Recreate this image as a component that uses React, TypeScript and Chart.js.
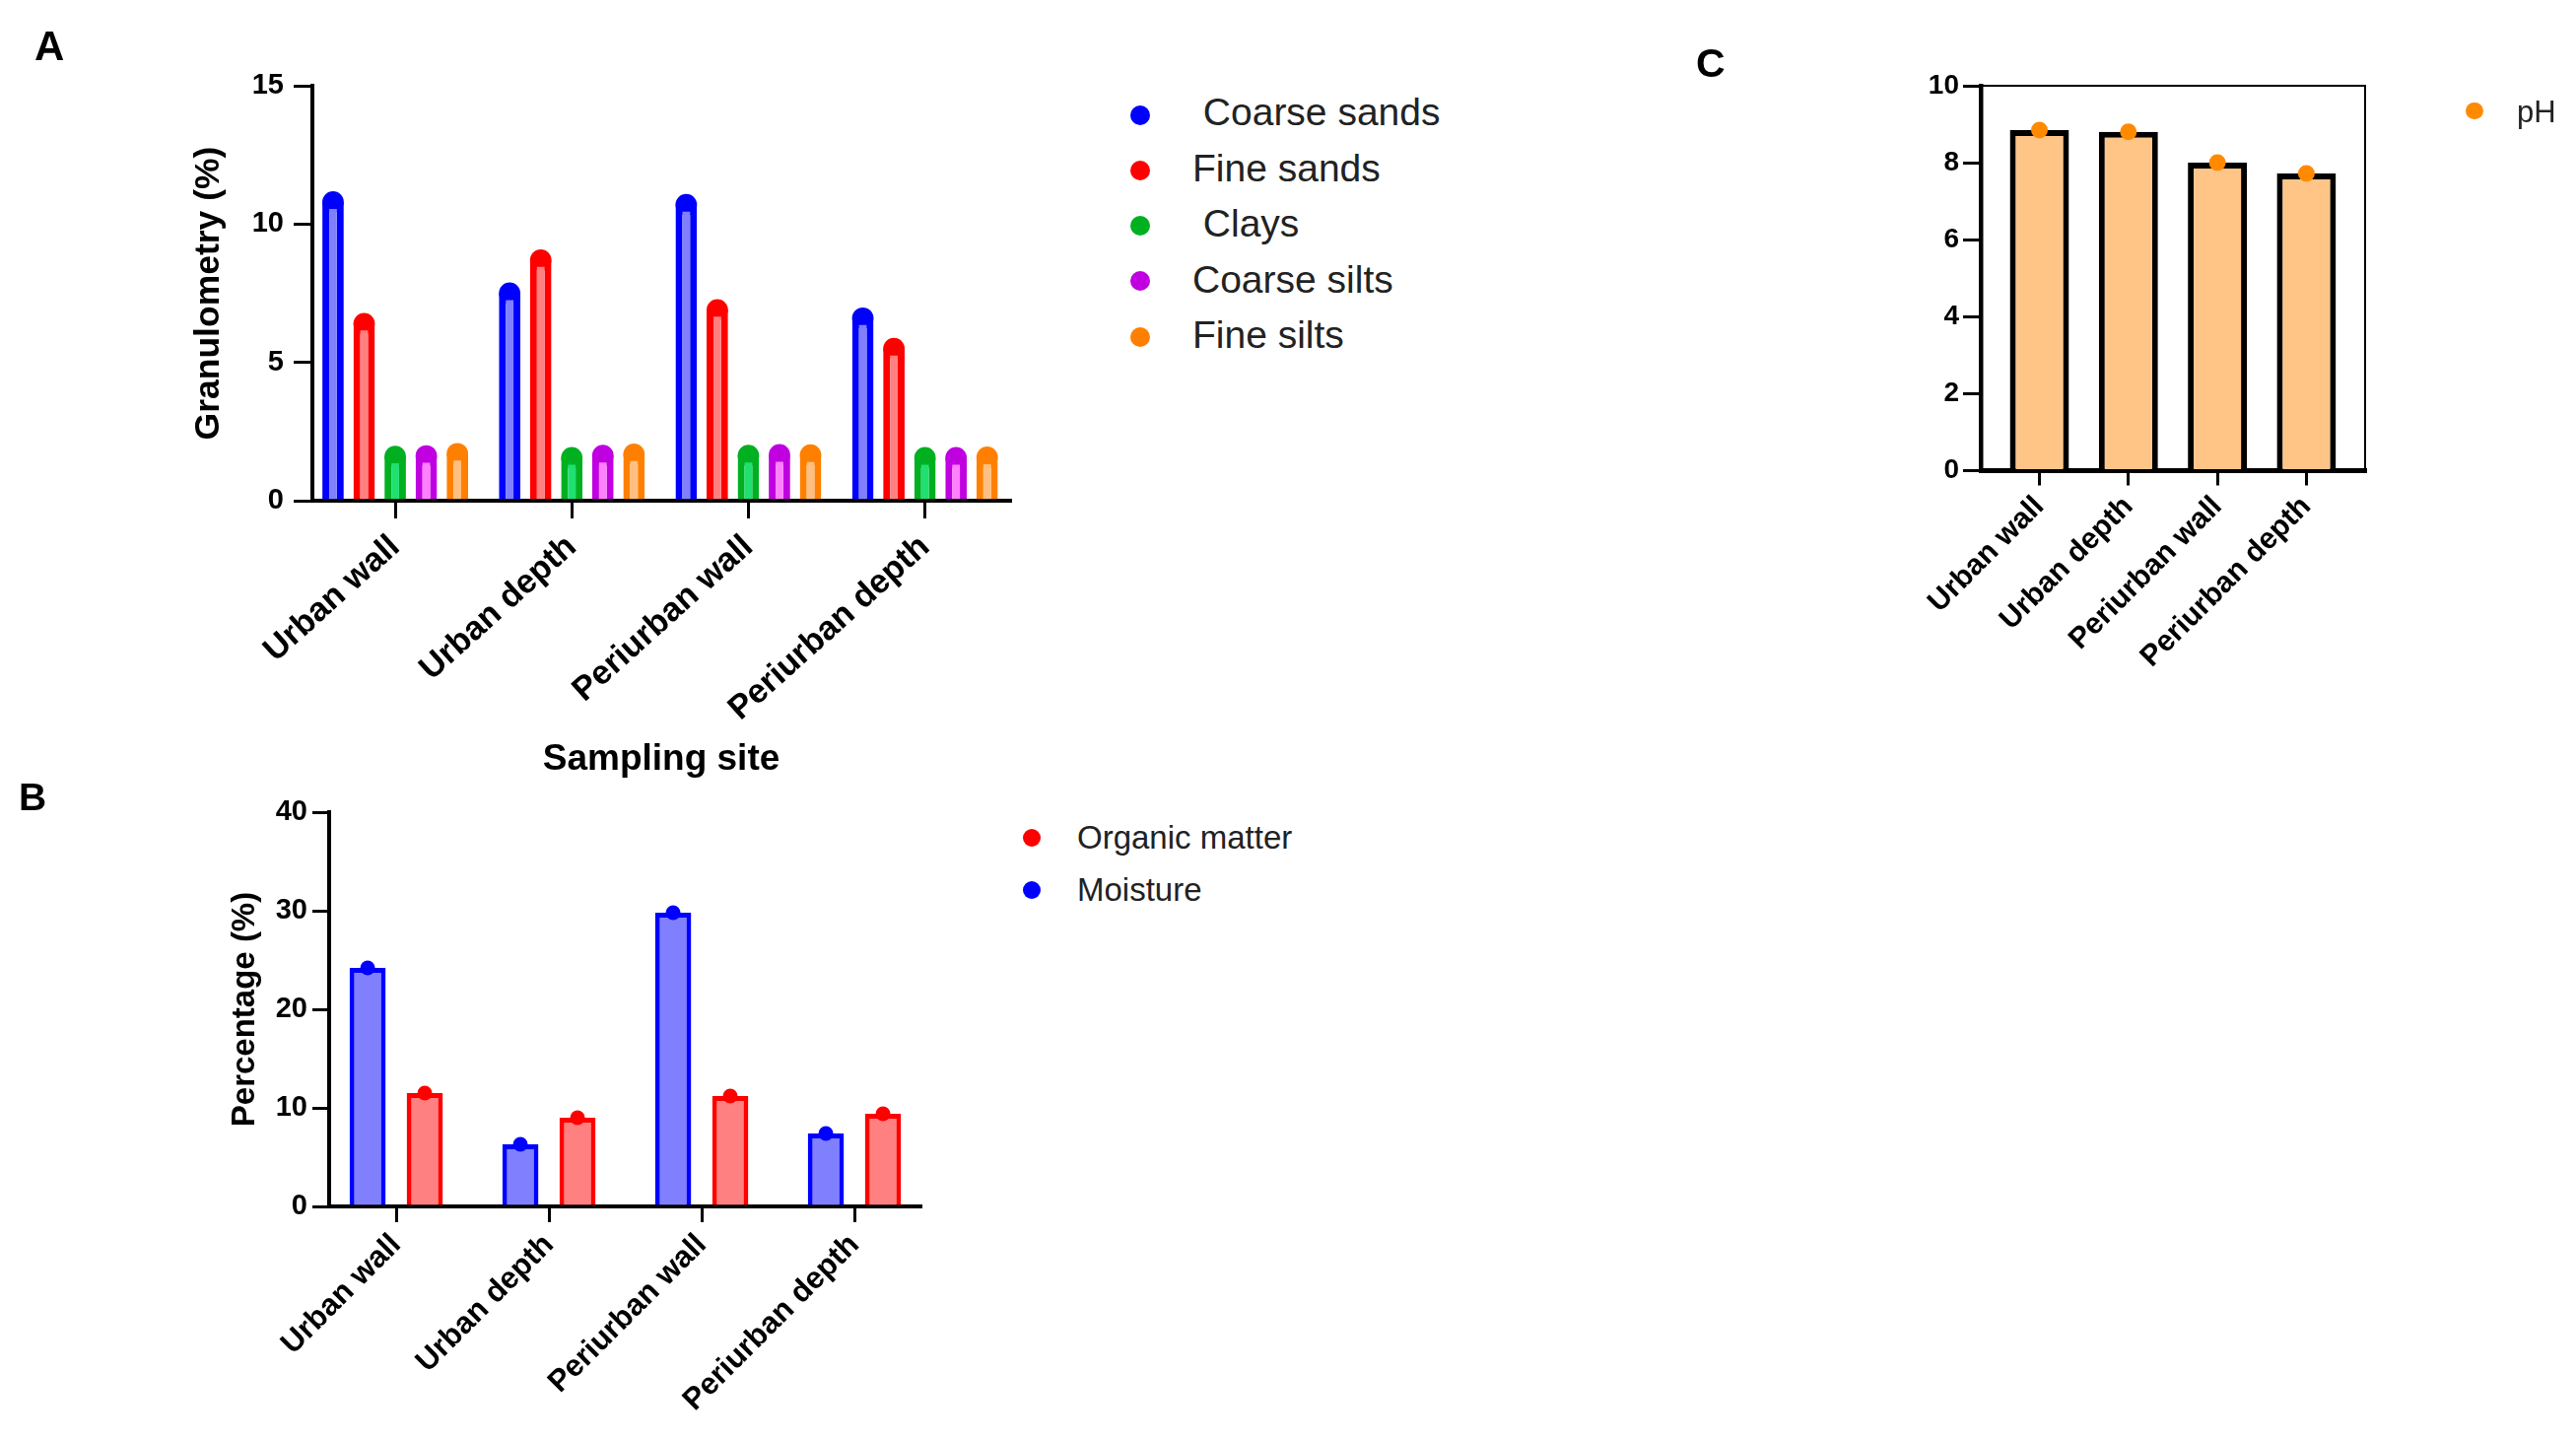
import React, { useEffect, useRef } from 'react';
import { Chart, registerables } from 'chart.js';

Chart.register(...registerables);

const FONT = '"Liberation Sans", Arial, Helvetica, sans-serif';

// ---------- data ----------
const sites = ['Urban wall', 'Urban depth', 'Periurban wall', 'Periurban depth'];

// Panel A – granulometry (%)
const granLabels = [' Coarse sands', 'Fine sands', ' Clays', 'Coarse silts', 'Fine silts'];
const coarseSands = [10.8, 7.5, 10.7, 6.6];
const fineSands = [6.4, 8.7, 6.9, 5.5];
const clays = [1.6, 1.55, 1.63, 1.55];
const coarseSilts = [1.62, 1.63, 1.66, 1.55];
const fineSilts = [1.7, 1.68, 1.65, 1.57];

// Panel B – percentage (%)
const bLabels = ['Organic matter', 'Moisture'];
const moisture = [24.2, 6.3, 29.8, 7.4];
const organicMatter = [11.5, 9.0, 11.2, 9.4];

// Panel C – pH
const cLabels = ['pH'];
const pH = [8.85, 8.8, 8.0, 7.72];

// ---------- styles ----------
const granBorder = ['#0000FF', '#FF0000', '#00B020', '#C000E0', '#FF8000'];
const granFill = ['#8080FF', '#FF8080', '#20E070', '#FF80FF', '#FFBF80'];
const BLUE = '#0000FF';
const BLUE_FILL = '#8080FF';
const RED = '#FF0000';
const RED_FILL = '#FF8080';
const PH_FILL = '#FFC587';
const PH_DOT = '#FF8A00';

const toXY = (vals: number[]) => vals.map((y, i) => ({ x: i, y }));

// GraphPad-like symbols on top of each bar
const dotPlugin = {
  id: 'dots',
  drawDots(chart: any, opts: any) {
    const ctx = chart.ctx;
    chart.data.datasets.forEach((ds: any, di: number) => {
      const meta = chart.getDatasetMeta(di);
      if (meta.hidden) return;
      meta.data.forEach((el: any) => {
        const p = el.getProps(['x', 'y', 'width'], true);
        const r = opts.fullWidth ? p.width / 2 : opts.radius;
        ctx.save();
        ctx.beginPath();
        ctx.arc(p.x, p.y, r, 0, Math.PI * 2);
        ctx.fillStyle = ds.dotColor || ds.borderColor;
        ctx.fill();
        ctx.restore();
      });
    });
  },
  beforeDatasetsDraw(chart: any, _a: any, opts: any) {
    if (opts && opts.behind) (dotPlugin as any).drawDots(chart, opts);
  },
  afterDatasetsDraw(chart: any, _a: any, opts: any) {
    if (opts && !opts.behind) (dotPlugin as any).drawDots(chart, opts);
  },
};

const framePlugin = {
  id: 'frame',
  afterDraw(chart: any, _a: any, opts: any) {
    if (!opts || !opts.enabled) return;
    const { left, right, top, bottom } = chart.chartArea;
    const ctx = chart.ctx;
    ctx.save();
    ctx.strokeStyle = '#000';
    ctx.lineWidth = opts.width;
    ctx.beginPath();
    ctx.moveTo(left, top);
    ctx.lineTo(right, top);
    ctx.lineTo(right, bottom);
    ctx.stroke();
    ctx.restore();
  },
};

function xAxis(o: any) {
  return {
    type: 'linear',
    min: o.min,
    max: o.max,
    offset: false,
    afterBuildTicks: (s: any) => {
      s.ticks = sites.map((_, i) => ({ value: i }));
    },
    afterFit: (s: any) => {
      s.height = o.height;
    },
    border: { display: true, color: '#000', width: o.borderWidth },
    grid: {
      display: true,
      drawOnChartArea: false,
      offset: false,
      tickLength: o.tickLength,
      tickWidth: 3,
      tickColor: '#000',
      lineWidth: 3,
      color: '#000',
    },
    ticks: {
      autoSkip: false,
      includeBounds: false,
      minRotation: o.rot,
      maxRotation: o.rot,
      padding: o.padding,
      color: '#000',
      font: { family: FONT, size: o.fontSize, weight: 'bold' },
      callback: (v: any) => (sites[v] !== undefined ? sites[v] : ''),
    },
    title: o.title
      ? {
          display: true,
          text: o.title,
          color: '#000',
          font: { family: FONT, size: o.titleSize, weight: 'bold' },
          padding: { top: 0, bottom: o.titlePad },
        }
      : { display: false },
  };
}

function yAxis(o: any) {
  return {
    type: 'linear',
    min: 0,
    max: o.max,
    afterFit: (s: any) => {
      s.width = o.width;
    },
    border: { display: true, color: '#000', width: o.borderWidth },
    grid: {
      display: true,
      drawOnChartArea: false,
      tickLength: o.tickLength,
      tickWidth: 3,
      tickColor: '#000',
      lineWidth: 3,
      color: '#000',
    },
    ticks: {
      stepSize: o.step,
      padding: o.padding,
      color: '#000',
      font: { family: FONT, size: o.fontSize, weight: 'bold' },
    },
    title: o.title
      ? {
          display: true,
          text: o.title,
          color: '#000',
          font: { family: FONT, size: o.titleSize, weight: 'bold' },
          padding: { top: o.titlePad, bottom: 0 },
        }
      : { display: false },
  };
}

const baseOpts = {
  responsive: false,
  animation: false,
  events: [],
};

function Text({ text, left, cy, size, bold, color }: any) {
  return (
    <div
      style={{
        position: 'absolute',
        left,
        top: cy - 0.4885 * size,
        fontSize: size,
        lineHeight: 1,
        fontWeight: bold ? 'bold' : 'normal',
        fontFamily: FONT,
        color: color || '#000',
        whiteSpace: 'pre',
      }}
    >
      {text}
    </div>
  );
}

function Dot({ cx, cy, r, color }: any) {
  return (
    <div
      style={{
        position: 'absolute',
        left: cx - r,
        top: cy - r,
        width: 2 * r,
        height: 2 * r,
        borderRadius: '50%',
        background: color,
      }}
    />
  );
}

export default function App() {
  const refA = useRef<HTMLCanvasElement>(null);
  const refB = useRef<HTMLCanvasElement>(null);
  const refC = useRef<HTMLCanvasElement>(null);

  useEffect(() => {
    const granSeries = [coarseSands, fineSands, clays, coarseSilts, fineSilts];
    const chartA = new Chart(refA.current as any, {
      type: 'bar',
      data: {
        datasets: granSeries.map((vals, k) => ({
          label: granLabels[k].trim(),
          data: toXY(vals),
          backgroundColor: granFill[k],
          borderColor: granBorder[k],
          borderWidth: 7,
          borderSkipped: 'bottom',
          categoryPercentage: 0.88,
          barPercentage: 0.69,
          dotColor: granBorder[k],
        })) as any,
      },
      options: {
        ...baseOpts,
        layout: { padding: { top: 87, right: 75, left: 0, bottom: 0 } },
        plugins: {
          legend: { display: false },
          tooltip: { enabled: false },
          dots: { behind: true, fullWidth: true },
        } as any,
        scales: {
          x: xAxis({
            min: -0.469,
            max: 3.482,
            height: 292,
            borderWidth: 4,
            tickLength: 18,
            rot: 42,
            padding: 9,
            fontSize: 34,
            title: 'Sampling site',
            titleSize: 37,
            titlePad: 7,
          }),
          y: yAxis({
            max: 15,
            step: 5,
            width: 317,
            borderWidth: 4,
            tickLength: 19,
            padding: 10,
            fontSize: 29,
            title: 'Granulometry (%)',
            titleSize: 35.5,
            titlePad: 191,
          }),
        } as any,
      } as any,
      plugins: [dotPlugin as any],
    });

    const chartB = new Chart(refB.current as any, {
      type: 'bar',
      data: {
        datasets: [
          {
            label: bLabels[1],
            data: toXY(moisture),
            backgroundColor: BLUE_FILL,
            borderColor: BLUE,
            borderWidth: 5,
            borderSkipped: 'bottom',
            categoryPercentage: 0.748,
            barPercentage: 0.633,
            dotColor: BLUE,
          },
          {
            label: bLabels[0],
            data: toXY(organicMatter),
            backgroundColor: RED_FILL,
            borderColor: RED,
            borderWidth: 5,
            borderSkipped: 'bottom',
            categoryPercentage: 0.748,
            barPercentage: 0.633,
            dotColor: RED,
          },
        ] as any,
      },
      options: {
        ...baseOpts,
        layout: { padding: { top: 44, right: 66, left: 0, bottom: 0 } },
        plugins: {
          legend: { display: false },
          tooltip: { enabled: false },
          dots: { behind: false, radius: 7.5 },
        } as any,
        scales: {
          x: xAxis({
            min: -0.439,
            max: 3.432,
            height: 238,
            borderWidth: 4,
            tickLength: 16,
            rot: 45,
            padding: 5,
            fontSize: 31,
          }),
          y: yAxis({
            max: 40,
            step: 10,
            width: 334,
            borderWidth: 4,
            tickLength: 17,
            padding: 5,
            fontSize: 29,
            title: 'Percentage (%)',
            titleSize: 33,
            titlePad: 229,
          }),
        } as any,
      } as any,
      plugins: [dotPlugin as any],
    });

    const chartC = new Chart(refC.current as any, {
      type: 'bar',
      data: {
        datasets: [
          {
            label: cLabels[0],
            data: toXY(pH),
            backgroundColor: PH_FILL,
            borderColor: '#000',
            borderWidth: 6,
            borderSkipped: 'bottom',
            categoryPercentage: 1,
            barPercentage: 0.664,
            dotColor: PH_DOT,
          },
        ] as any,
      },
      options: {
        ...baseOpts,
        layout: { padding: { top: 87, right: 214, left: 0, bottom: 0 } },
        plugins: {
          legend: { display: false },
          tooltip: { enabled: false },
          dots: { behind: false, radius: 8.5 },
          frame: { enabled: true, width: 2 },
        } as any,
        scales: {
          x: xAxis({
            min: -0.659,
            max: 3.66,
            height: 282.5,
            borderWidth: 5,
            tickLength: 15,
            rot: 45,
            padding: 4,
            fontSize: 30,
          }),
          y: yAxis({
            max: 10,
            step: 2,
            width: 360,
            borderWidth: 4.5,
            tickLength: 18,
            padding: 4,
            fontSize: 28,
          }),
        } as any,
      } as any,
      plugins: [dotPlugin as any, framePlugin as any],
    });

    return () => {
      chartA.destroy();
      chartB.destroy();
      chartC.destroy();
    };
  }, []);

  const legendA = granLabels.map((t, k) => ({ t, c: granBorder[k] }));

  return (
    <div
      style={{
        position: 'absolute',
        left: 0,
        top: 0,
        width: 2614,
        height: 1462,
        overflow: 'hidden',
        background: '#fff',
        fontFamily: FONT,
      }}
    >
      <canvas ref={refA} width={1100} height={800} style={{ position: 'absolute', left: 0, top: 0 }} />
      <canvas ref={refB} width={1000} height={682} style={{ position: 'absolute', left: 0, top: 780 }} />
      <canvas ref={refC} width={964} height={760} style={{ position: 'absolute', left: 1650, top: 0 }} />

      <Text text="A" left={35} cy={47} size={42} bold />
      <Text text="B" left={19} cy={808} size={39} bold />
      <Text text="C" left={1721} cy={64.5} size={41} bold />

      {legendA.map((it, k) => (
        <React.Fragment key={it.t}>
          <Dot cx={1157} cy={116.7 + k * 56.25} r={10} color={it.c} />
          <Text text={it.t} left={1210} cy={113.5 + k * 56.5} size={39} color="#222" />
        </React.Fragment>
      ))}

      <Dot cx={1047} cy={850} r={9} color={RED} />
      <Text text={bLabels[0]} left={1093} cy={849} size={33} color="#222" />
      <Dot cx={1047} cy={903} r={9} color={BLUE} />
      <Text text={bLabels[1]} left={1093} cy={902.5} size={33} color="#222" />

      <Dot cx={2511} cy={112.5} r={8.7} color={PH_DOT} />
      <Text text={cLabels[0]} left={2554} cy={113.5} size={31} color="#222" />
    </div>
  );
}
